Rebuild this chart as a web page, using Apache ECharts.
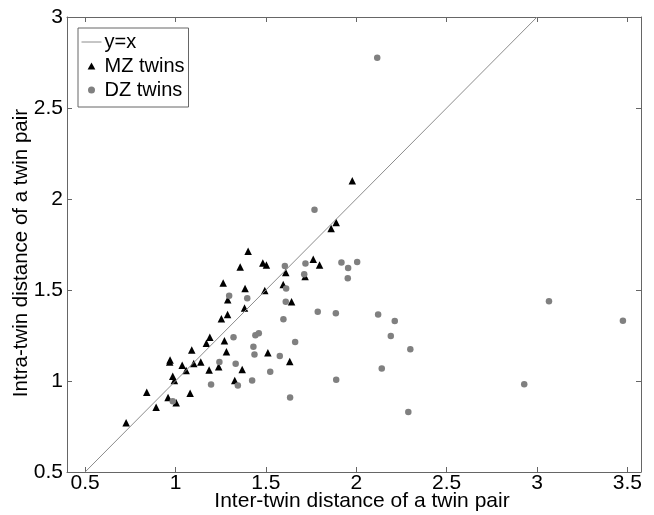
<!DOCTYPE html>
<html>
<head>
<meta charset="utf-8">
<script src="https://cdn.jsdelivr.net/npm/echarts@6/dist/echarts.min.js"></script>
<style>
html,body{margin:0;padding:0;background:#fff;}
#chart{width:654px;height:515px;}
</style>
</head>
<body>
<div id="chart"></div>
<script>
// Tick labels
const xTicks = [0.5, 1, 1.5, 2, 2.5, 3, 3.5];
const yTicks = [0.5, 1, 1.5, 2, 2.5, 3];

// y = x reference line endpoints
const identityLine = [[0.5, 0.5], [3, 3]];

// MZ twins: [inter-twin distance, intra-twin distance]
const mzTwins = [
  [0.727, 0.770], [0.841, 0.938], [0.893, 0.856], [0.959, 0.909], [0.970, 1.115],
  [0.968, 1.104], [0.985, 1.026], [0.994, 1.003], [1.004, 0.880], [1.037, 1.087],
  [1.059, 1.058], [1.081, 0.933], [1.090, 1.170], [1.101, 1.096], [1.140, 1.104],
  [1.171, 1.207], [1.186, 1.060], [1.190, 1.241], [1.239, 1.078], [1.254, 1.342],
  [1.264, 1.539], [1.271, 1.221], [1.282, 1.161], [1.288, 1.366], [1.289, 1.447],
  [1.328, 1.003], [1.358, 1.627], [1.369, 1.063], [1.382, 1.401], [1.385, 1.508],
  [1.402, 1.713], [1.483, 1.649], [1.503, 1.638], [1.494, 1.497], [1.511, 1.155],
  [1.596, 1.530], [1.610, 1.596], [1.642, 1.436], [1.632, 1.107], [1.717, 1.574],
  [1.762, 1.669], [1.797, 1.638], [1.861, 1.838], [1.889, 1.871], [1.978, 2.100]
];

// DZ twins: [inter-twin distance, intra-twin distance]
const dzTwins = [
  [0.985, 0.889], [1.197, 0.981], [1.243, 1.104], [1.297, 1.469], [1.321, 1.241],
  [1.333, 1.095], [1.345, 0.975], [1.397, 1.454], [1.424, 1.003], [1.431, 1.188],
  [1.437, 1.146], [1.442, 1.251], [1.461, 1.262], [1.524, 1.051], [1.577, 1.137],
  [1.597, 1.339], [1.605, 1.632], [1.612, 1.508], [1.610, 1.436], [1.634, 0.909],
  [1.662, 1.214], [1.712, 1.586], [1.719, 1.645], [1.787, 1.381], [1.887, 1.372],
  [1.889, 1.007], [1.918, 1.651], [1.955, 1.621], [1.953, 1.564], [2.005, 1.654],
  [1.769, 1.941], [2.116, 2.776], [2.121, 1.366], [2.213, 1.329], [2.191, 1.247],
  [2.299, 1.175], [2.141, 1.069], [2.288, 0.830], [2.929, 0.982], [3.066, 1.438],
  [3.475, 1.331]
];

const FONT = 'Liberation Sans, Arial, sans-serif';
const AXIS_COLOR = '#666666';

const chart = echarts.init(document.getElementById('chart'), null, {renderer: 'canvas'});

function xAx(pos, showLabel) {
  return {
    type: 'value', position: pos, min: 0.4, max: 3.575,
    axisLine: {show: true, onZero: false, lineStyle: {color: AXIS_COLOR, width: 1}},
    axisTick: {show: true, inside: true, length: 5, customValues: xTicks, lineStyle: {color: AXIS_COLOR}},
    axisLabel: {show: showLabel, customValues: xTicks, margin: 1, color: '#000', fontSize: 21, fontFamily: FONT},
    splitLine: {show: false}
  };
}
function yAx(pos, showLabel) {
  return {
    type: 'value', position: pos, min: 0.5, max: 3,
    axisLine: {show: true, onZero: false, lineStyle: {color: AXIS_COLOR, width: 1}},
    axisTick: {show: true, inside: true, length: 5, customValues: yTicks, lineStyle: {color: AXIS_COLOR}},
    axisLabel: {show: showLabel, customValues: yTicks, margin: 4, color: '#000', fontSize: 21, fontFamily: FONT},
    splitLine: {show: false}
  };
}

chart.setOption({
  animation: false,
  backgroundColor: '#ffffff',
  grid: {left: 67, top: 17, right: 13, bottom: 43, containLabel: false},
  xAxis: [xAx('bottom', true), xAx('top', false)],
  yAxis: [yAx('left', true), yAx('right', false)],
  legend: {
    orient: 'vertical', left: 78, top: 28,
    backgroundColor: '#fff', borderColor: AXIS_COLOR, borderWidth: 1, borderRadius: 0,
    padding: [4, 4, 7, 3], itemWidth: 20, itemHeight: 7, itemGap: 4,
    symbolKeepAspect: true,
    textStyle: {color: '#000', fontSize: 20, fontFamily: FONT, padding: [0, 0, 0, -2]},
    data: [
      {name: 'y=x', itemStyle: {opacity: 0}, lineStyle: {color: '#8c8c8c', width: 1}},
      {name: 'MZ twins', icon: 'path://M0,10 L5.5,0 L11,10 Z', itemStyle: {color: '#000', opacity: 1}},
      {name: 'DZ twins', icon: 'path://M5,0 A5,5 0 1,1 5,10 A5,5 0 1,1 5,0 Z', itemStyle: {color: '#808080', opacity: 1}}
    ]
  },
  graphic: [
    {type: 'text', x: 362, y: 501, style: {text: 'Inter-twin distance of a twin pair', font: '21px ' + FONT, fill: '#000', align: 'center', verticalAlign: 'middle'}},
    {type: 'text', x: 21, y: 253, rotation: Math.PI / 2, style: {text: 'Intra-twin distance of a twin pair', font: '20.5px ' + FONT, fill: '#000', align: 'center', verticalAlign: 'middle'}}
  ],
  series: [
    {
      name: 'y=x', type: 'line', data: identityLine, symbol: 'none', silent: true,
      lineStyle: {color: '#8c8c8c', width: 1}, itemStyle: {color: '#8c8c8c'}
    },
    {
      name: 'MZ twins', type: 'scatter', data: mzTwins, symbol: 'triangle', symbolSize: 7.5,
      itemStyle: {color: '#000', opacity: 1}
    },
    {
      name: 'DZ twins', type: 'scatter', data: dzTwins, symbol: 'circle', symbolSize: 6.5,
      itemStyle: {color: '#808080', opacity: 1}
    }
  ]
});
</script>
</body>
</html>
